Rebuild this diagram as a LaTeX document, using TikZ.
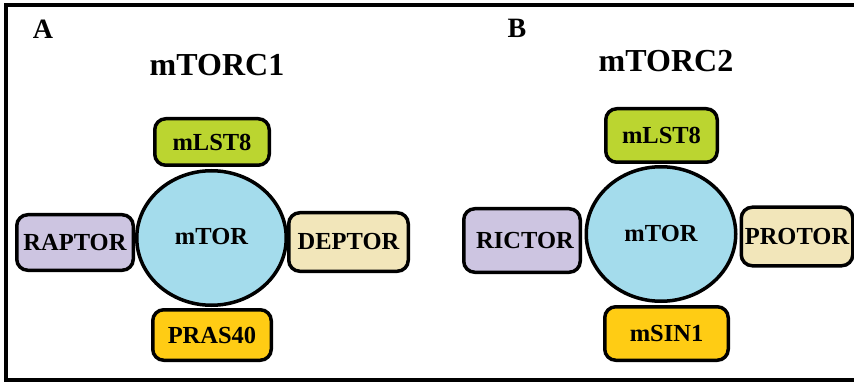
\documentclass[tikz,border=0pt]{standalone}
\usepackage{fontspec}
\setmainfont{Liberation Serif}
\usetikzlibrary{shapes.geometric}
\definecolor{lstgreen}{RGB}{187,213,48}
\definecolor{torblue}{RGB}{164,220,236}
\definecolor{raplav}{RGB}{205,197,225}
\definecolor{depcream}{RGB}{242,230,186}
\definecolor{prasgold}{RGB}{255,204,20}
\begin{document}
\begin{tikzpicture}[x=1pt,y=-1pt,
  frame/.style={line width=4pt},
  subunit/.style={draw=black, line width=3.5pt, rounded corners=11pt, inner sep=0pt,
    font=\fontsize{24.5}{26}\selectfont\bfseries, text=black},
  core/.style={ellipse, draw=black, line width=3.5pt, fill=torblue, inner sep=0pt,
    minimum width=149.5pt, minimum height=134.5pt,
    font=\fontsize{24.5}{26}\selectfont\bfseries, text=black},
  panel/.style={font=\fontsize{28}{30}\selectfont\bfseries, inner sep=0pt},
  complex/.style={font=\fontsize{32}{34}\selectfont\bfseries, inner sep=0pt}]
\useasboundingbox (0,0) rectangle (854,382);
\begin{scope}
\clip (0,0) rectangle (854,382);
\draw[frame] (5.5,5) rectangle (880,380);

% panel A: mTORC1
\node[panel] (labA) at (43,29) {A};
\node[complex] (titA) at (217,65) {mTORC1};
\node[core] (torA) at (211.5,238) {\raisebox{3pt}{mTOR}};
\node[subunit, fill=lstgreen, minimum width=114.5pt, minimum height=46.5pt] (lstA) at (212,142) {mLST8};
\node[subunit, fill=raplav, minimum width=116.5pt, minimum height=55.5pt] (rapA) at (75,242.5) {RAPTOR};
\node[subunit, fill=depcream, minimum width=119.5pt, minimum height=58.5pt] (depA) at (348.5,242) {DEPTOR};
\node[subunit, fill=prasgold, minimum width=118.5pt, minimum height=50.5pt] (prasA) at (212,335) {PRAS40};

% panel B: mTORC2
\node[panel] (labB) at (517,28) {B};
\node[complex] (titB) at (666,61) {mTORC2};
\node[core] (torB) at (661,234) {\raisebox{2pt}{mTOR}};
\node[subunit, fill=lstgreen, minimum width=111.5pt, minimum height=53.5pt] (lstB) at (661.5,135.5) {mLST8};
\node[subunit, fill=raplav, minimum width=116.5pt, minimum height=63.5pt] (ricB) at (522,240.5) {\hspace*{6pt}RICTOR};
\node[subunit, fill=depcream, minimum width=111.5pt, minimum height=58.5pt] (proB) at (797,236.5) {PROTOR};
\node[subunit, fill=prasgold, minimum width=123.5pt, minimum height=53.5pt] (sinB) at (666.5,333.5) {mSIN1};
\end{scope}
\end{tikzpicture}
\end{document}
